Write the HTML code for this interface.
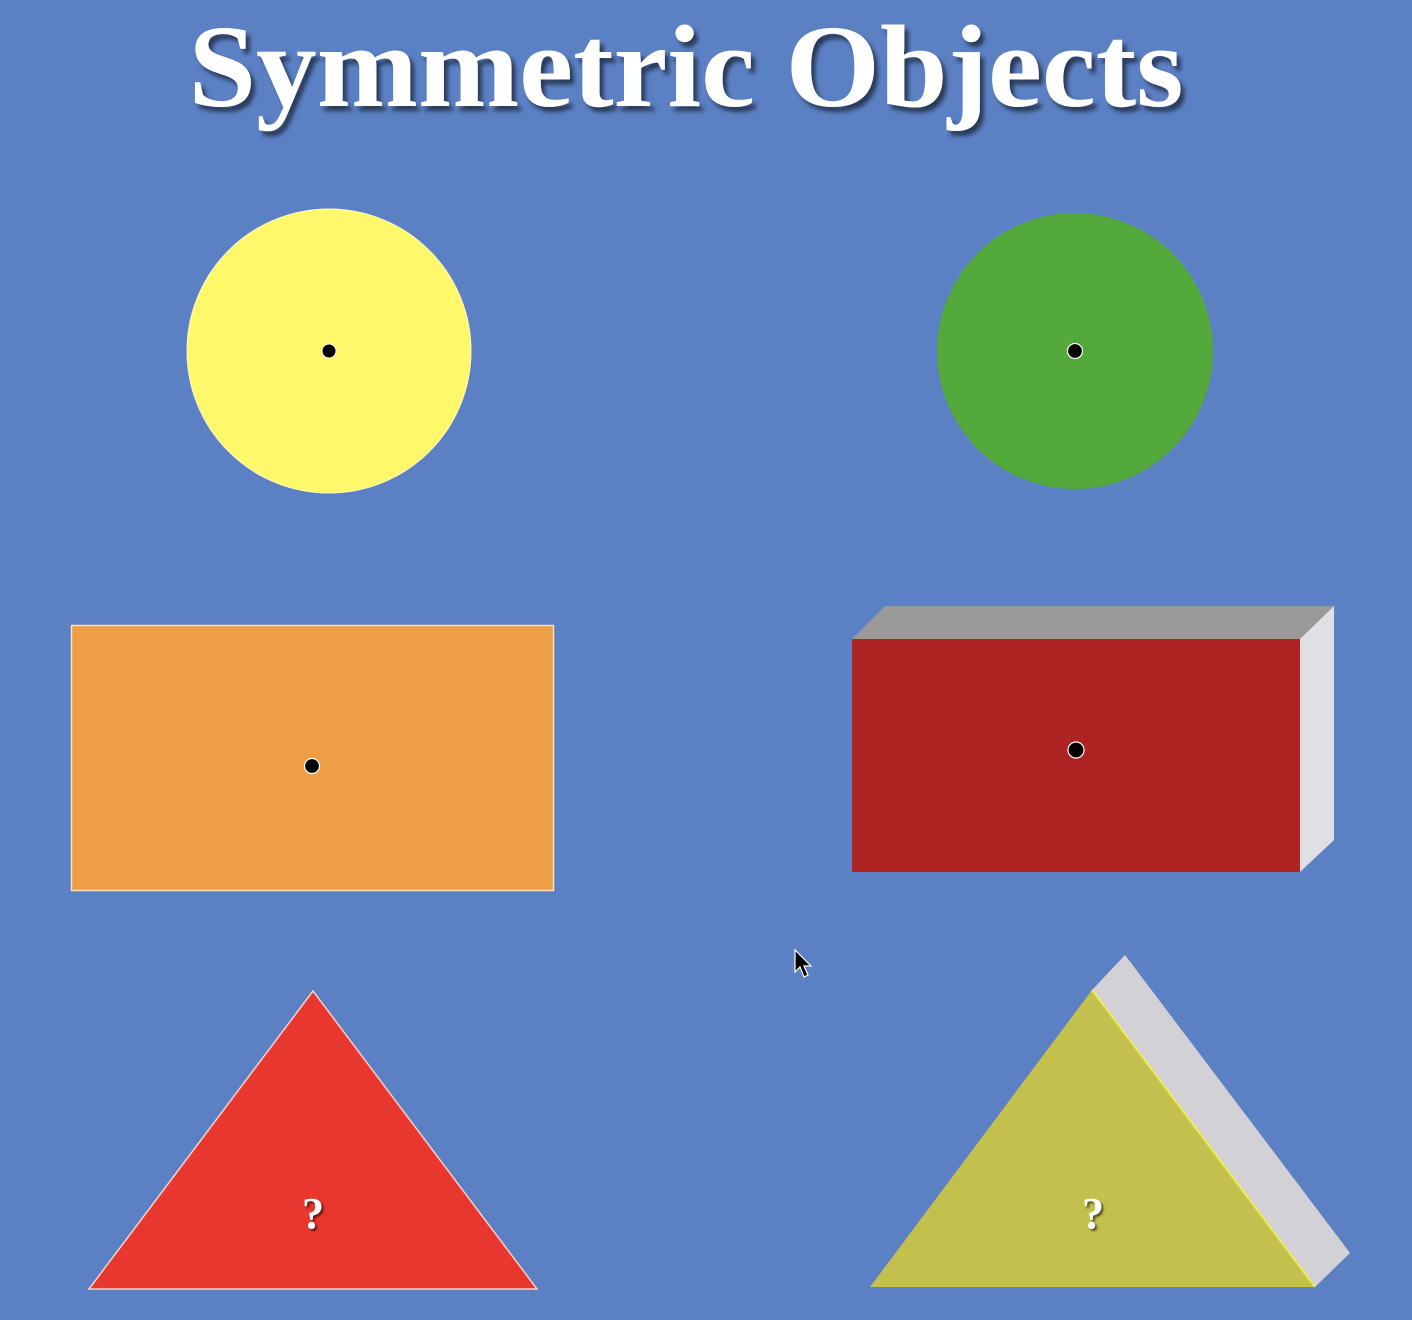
<!DOCTYPE html>
<html><head><meta charset="utf-8"><style>
html,body{margin:0;padding:0;background:#5b80c4;width:1412px;height:1320px;overflow:hidden}
svg{display:block}
</style></head><body>
<svg width="1412" height="1320" viewBox="0 0 1412 1320">
<defs>
<filter id="sh" x="-5%" y="-5%" width="110%" height="120%"><feDropShadow dx="4" dy="5" stdDeviation="2" flood-color="#000" flood-opacity="0.55"/></filter>
<filter id="sh2"><feDropShadow dx="2" dy="2" stdDeviation="1" flood-color="#000" flood-opacity="0.6"/></filter>
</defs>
<rect width="1412" height="1320" fill="#5b80c4"/>
<text x="686" y="106" text-anchor="middle" textLength="995" lengthAdjust="spacingAndGlyphs" font-family="'Liberation Serif',serif" font-weight="bold" font-size="118" fill="#fff" filter="url(#sh)">Symmetric Objects</text>

<g>
<circle cx="329" cy="351" r="142" fill="#fff86a" stroke="#fffcc0" stroke-width="1"/>
<circle cx="329" cy="351" r="7" fill="#000" stroke="#fff" stroke-width="1"/>
</g>
<g>
<circle cx="1075" cy="351" r="138" fill="#53a93c"/>
<circle cx="1075" cy="351" r="7.5" fill="#000" stroke="#fff" stroke-width="1.2"/>
</g>

<g>
<rect x="71.5" y="625.5" width="482" height="265" fill="#ee9e47" stroke="#fde0c0" stroke-width="1.5"/>
<circle cx="312" cy="766" r="7.5" fill="#000" stroke="#fff" stroke-width="1.2"/>
</g>

<g>
<polygon points="852,639 885,606 1334,606 1300,639" fill="#999999"/>
<polygon points="1300,639 1334,606 1334,840 1300,872" fill="#e0dfe3"/>
<rect x="852" y="639" width="448" height="233" fill="#ae2422"/>
<circle cx="1076" cy="750" r="8" fill="#000" stroke="#fff" stroke-width="1.2"/>
</g>

<g>
<polygon points="313,991 89,1289 537,1289" fill="#e8372e" stroke="#f8d0c8" stroke-width="1.5"/>
<text x="313" y="1228" text-anchor="middle" font-family="'Liberation Serif',serif" font-weight="bold" font-size="44" fill="#fff" filter="url(#sh2)">?</text>
</g>

<g>
<polygon points="1092,990 1125,955 1350,1253 1315,1287" fill="#d2d1d6"/>
<polygon points="1092,990 870,1287 1315,1287" fill="#c3c04e"/>
<line x1="1092" y1="990" x2="1315" y2="1287" stroke="#ecec50" stroke-width="2"/>
<text x="1093" y="1228" text-anchor="middle" font-family="'Liberation Serif',serif" font-weight="bold" font-size="44" fill="#fff" filter="url(#sh2)">?</text>
</g>

<g>
<polygon points="795,950 795,972 800,967 804,977 808,975 804,966 811,966" fill="#000" stroke="#fff" stroke-width="1.2"/>
</g>
</svg>
</body></html>
